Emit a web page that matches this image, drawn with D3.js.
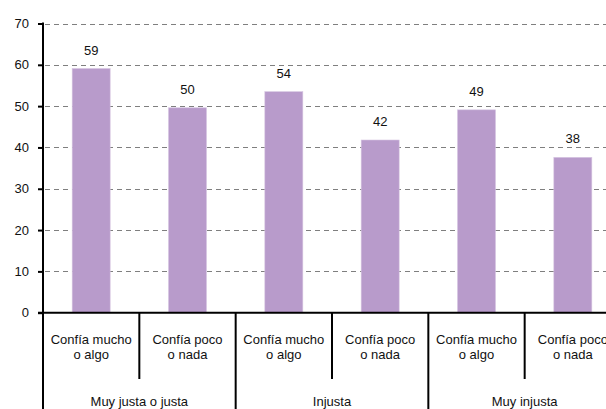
<!DOCTYPE html>
<html><head><meta charset="utf-8">
<script src="https://cdn.jsdelivr.net/npm/d3@7"></script>
<style>body{margin:0;background:#fff}svg{display:block}</style>
</head><body>
<svg id="c" width="606" height="409"></svg>
<script>
const groups = ["Muy justa o justa", "Injusta", "Muy injusta"];
const subLabels = [["Confía mucho", "o algo"], ["Confía poco", "o nada"]];
const values = [59.1, 49.6, 53.5, 41.8, 49.1, 37.6];
const valueLabels = ["59", "50", "54", "42", "49", "38"];
const yTicks = [0, 10, 20, 30, 40, 50, 60, 70];

const svg = d3.select("#c");
const font = "Liberation Sans, Arial, sans-serif";
const x0 = 43, x1 = 621;
const y = d3.scaleLinear().domain([0, 70]).range([312.7, 23.5]);
const idx = values.map((d, i) => i);
const x = d3.scaleBand().domain(idx).range([x0, x1]).padding(0);
const bw = x.bandwidth();

// gridlines
svg.append("g").selectAll("line").data(yTicks.filter(t => t > 0)).join("line")
  .attr("x1", x0 + 2).attr("x2", 606).attr("y1", d => Math.round(y(d)) + 0.5).attr("y2", d => Math.round(y(d)) + 0.5)
  .attr("stroke", "#7f7f7f").attr("stroke-width", 1).attr("stroke-dasharray", "5,4");

// bars
svg.append("g").selectAll("rect").data(values).join("rect")
  .attr("x", (d, i) => x(i) + bw / 2 - 19).attr("width", 38)
  .attr("y", d => y(d)).attr("height", d => y(0) - y(d))
  .attr("fill", "#b89bcb").attr("stroke", "#d6c5e2").attr("stroke-width", 0.6);

// value labels
svg.append("g").selectAll("text").data(values).join("text")
  .attr("x", (d, i) => x(i) + bw / 2).attr("y", d => y(d) - 14)
  .attr("text-anchor", "middle").attr("font-family", font).attr("font-size", 13).attr("fill", "#111")
  .text((d, i) => valueLabels[i]);

// y axis
const yAxis = d3.axisLeft(y).tickValues(yTicks).tickSize(5).tickPadding(9);
const ga = svg.append("g").attr("transform", `translate(${x0},0)`).call(yAxis);
ga.select(".domain").remove();
ga.selectAll(".tick line").attr("stroke", "#000").attr("stroke-width", 2);
ga.selectAll(".tick text").attr("font-family", font).attr("font-size", 13).attr("fill", "#111");
svg.append("line").attr("x1", x0).attr("x2", x0).attr("y1", y(70) - 1).attr("y2", 409)
  .attr("stroke", "#000").attr("stroke-width", 2);

// x baseline
svg.append("line").attr("x1", x0 - 5).attr("x2", 606).attr("y1", y(0)).attr("y2", y(0))
  .attr("stroke", "#000").attr("stroke-width", 2);

// separators
idx.slice(1).forEach(i => {
  const isGroup = i % 2 === 0;
  svg.append("line").attr("x1", x(i)).attr("x2", x(i)).attr("y1", y(0)).attr("y2", isGroup ? 409 : 379)
    .attr("stroke", "#000").attr("stroke-width", 2);
});

// sub labels
idx.forEach(i => {
  const t = svg.append("text").attr("text-anchor", "middle").attr("font-family", font)
    .attr("font-size", 13).attr("fill", "#111");
  subLabels[i % 2].forEach((line, k) => {
    t.append("tspan").attr("x", x(i) + bw / 2).attr("y", 343.5 + k * 15.5).text(line);
  });
});

// group labels
groups.forEach((g, j) => {
  svg.append("text").attr("x", x(j * 2) + bw).attr("y", 406)
    .attr("text-anchor", "middle").attr("font-family", font).attr("font-size", 13).attr("fill", "#111")
    .text(g);
});
</script>
</body></html>
